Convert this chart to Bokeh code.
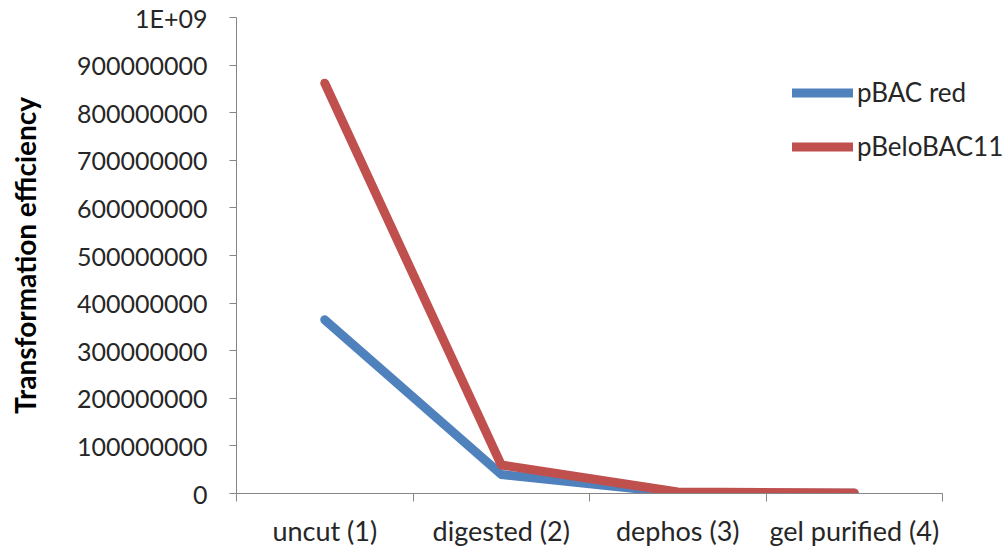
from bokeh.plotting import figure
from bokeh.models import LinearAxis, FixedTicker, Range1d, Legend, LegendItem
from bokeh.embed import file_html
from bokeh.resources import INLINE

# Transformation efficiency per preparation step
categories = ["uncut (1)", "digested (2)", "dephos (3)", "gel purified (4)"]
pbac_red = [365e6, 40e6, 1e6, 0.5e6]
pbelobac11 = [862e6, 60e6, 3e6, 1e6]
y_ticks = [0, 1e8, 2e8, 3e8, 4e8, 5e8, 6e8, 7e8, 8e8, 9e8, 1e9]
y_tick_labels = ["0", "100000000", "200000000", "300000000", "400000000",
                 "500000000", "600000000", "700000000", "800000000",
                 "900000000", "1E+09"]

FONT = "Lato"
AXIS_COLOR = "#868686"
TEXT_COLOR = "#262626"

n = len(categories)
# categories sit at the middle of unit-wide slots
x_pos = [i + 0.5 for i in range(n)]
slot_edges = list(range(n + 1))

# the frame runs past the last slot so the legend has room;
# the axis line itself is bounded to the slots
FRAME_LEFT, AXIS_RIGHT, FRAME_RIGHT = 236, 942, 1003
x_end = n * (FRAME_RIGHT - FRAME_LEFT) / (AXIS_RIGHT - FRAME_LEFT)

p = figure(width=1003, height=549, output_backend="svg", toolbar_location=None,
           x_range=Range1d(0, x_end), y_range=Range1d(0, 1e9),
           x_axis_location=None, y_axis_location=None,
           min_border_left=FRAME_LEFT, min_border_right=1003 - FRAME_RIGHT,
           min_border_top=17, min_border_bottom=56)
p.outline_line_color = None
p.xgrid.visible = False
p.ygrid.visible = False

# y axis
yax = LinearAxis(ticker=FixedTicker(ticks=y_ticks),
                 major_label_overrides={t: s for t, s in zip(y_ticks, y_tick_labels)})
yax.axis_label = "Transformation efficiency"
yax.axis_label_text_font = FONT
yax.axis_label_text_font_style = "bold"
yax.axis_label_text_font_size = "28px"
yax.axis_label_text_color = "#000000"
yax.axis_label_standoff = 32
yax.major_label_text_font = FONT
yax.major_label_text_font_size = "25px"
yax.major_label_text_color = TEXT_COLOR
yax.major_label_standoff = 22
yax.axis_line_color = AXIS_COLOR
yax.major_tick_line_color = AXIS_COLOR
yax.major_tick_in = 0
yax.major_tick_out = 7
yax.minor_tick_line_color = None
p.add_layout(yax, "left")

# x axis: labels at slot centres, tick marks at slot boundaries
xax = LinearAxis(ticker=FixedTicker(ticks=x_pos, minor_ticks=slot_edges),
                 major_label_overrides={x: c for x, c in zip(x_pos, categories)},
                 bounds=(0, n))
xax.axis_line_color = AXIS_COLOR
xax.major_tick_line_color = None
xax.minor_tick_line_color = AXIS_COLOR
xax.minor_tick_in = 0
xax.minor_tick_out = 8
xax.major_label_text_font = FONT
xax.major_label_text_font_size = "27px"
xax.major_label_text_color = TEXT_COLOR
xax.major_label_standoff = 12
p.add_layout(xax, "below")

r1 = p.line(x_pos, pbac_red, line_color="#4F81BD", line_width=9,
            line_cap="round", line_join="round")
r2 = p.line(x_pos, pbelobac11, line_color="#C0504D", line_width=9,
            line_cap="round", line_join="round")

legend = Legend(items=[LegendItem(label="pBAC red", renderers=[r1]),
                       LegendItem(label="pBeloBAC11", renderers=[r2])],
                location=(556, 331), orientation="vertical",
                glyph_width=61, glyph_height=25, label_height=25,
                spacing=22, padding=0, margin=0, label_standoff=4,
                border_line_color=None, background_fill_alpha=0,
                label_text_font=FONT, label_text_font_size="26px",
                label_text_color=TEXT_COLOR)
p.add_layout(legend, "center")

open("out.html", "w").write(file_html(p, INLINE))
